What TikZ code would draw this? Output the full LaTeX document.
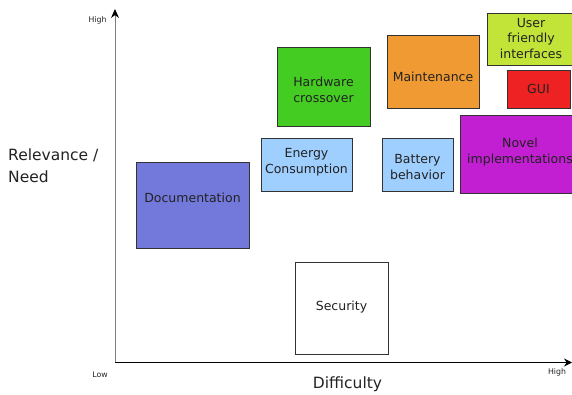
\documentclass[tikz,border=0pt]{standalone}
\usepackage{fontspec}
\setmainfont{DejaVu Sans}
\usetikzlibrary{arrows.meta}
\definecolor{cdoc}{HTML}{7379DB}
\definecolor{cblue}{HTML}{9FCFFF}
\definecolor{cgreen}{HTML}{44CC22}
\definecolor{corange}{HTML}{F09A33}
\definecolor{cyell}{HTML}{C2E337}
\definecolor{cred}{HTML}{EE2222}
\definecolor{cpurp}{HTML}{C11FD1}
\definecolor{cborder}{HTML}{333333}
\definecolor{ctext}{HTML}{222222}
\tikzset{
  box/.style={draw=cborder, line width=0.9pt, inner sep=0pt},
  boxtext/.style={align=center, inner sep=0pt, text=ctext, font=\fontsize{12.5}{15.5}\selectfont},
  axislbl/.style={font=\fontsize{15.5}{22}\selectfont, text=ctext},
  ticklbl/.style={font=\fontsize{7.8}{9}\selectfont, text=ctext},
}
\begin{document}
\begin{tikzpicture}[x=1pt,y=-1pt]
\clip (0,0) rectangle (572,395);
\fill[white] (0,0) rectangle (572,395);
% boxes
\node[box, fill=cdoc, minimum width=113pt, minimum height=86pt] (doc) at (192.5,205) {};
\node[box, fill=cblue, minimum width=91pt, minimum height=53pt] (energy) at (306.5,164.5) {};
\node[box, fill=cgreen, minimum width=93pt, minimum height=79pt] (hw) at (323.5,86.5) {};
\node[box, fill=corange, minimum width=92pt, minimum height=73pt] (maint) at (433,72) {};
\node[box, fill=cyell, minimum width=90pt, minimum height=52pt] (user) at (532,39) {};
\node[box, fill=cred, minimum width=63pt, minimum height=38pt] (gui) at (538.5,89) {};
\node[box, fill=cpurp, minimum width=120pt, minimum height=78pt] (novel) at (520,154) {};
\node[box, fill=cblue, minimum width=71pt, minimum height=53pt] (batt) at (417.5,164.5) {};
\node[box, fill=white, minimum width=93pt, minimum height=92pt] (sec) at (341.5,308.5) {};
% box texts
\node[boxtext] (docT) at (192.5,198) {Documentation};
\node[boxtext] (energyT) at (306.5,162) {Energy\\Consumption};
\node[boxtext] (hwT) at (323.5,90) {Hardware\\crossover};
\node[boxtext] (maintT) at (433,77) {Maintenance};
\node[boxtext] (userT) at (531,38.5) {User\\friendly\\interfaces};
\node[boxtext] (guiT) at (538.5,89) {GUI};
\node[boxtext] (novelT) at (520,152) {Novel\\implementations};
\node[boxtext] (battT) at (417.5,167) {Battery\\behavior};
\node[boxtext] (secT) at (341.5,307) {Security};
% axes
\coordinate (origin) at (115,362.5);
\coordinate (ytop) at (115,9);
\coordinate (xend) at (572,362.5);
\draw[line width=0.9pt, draw=gray, -{Stealth[length=9pt,width=8pt,color=black]}] (origin) -- (ytop);
\draw[line width=1.5pt, draw=black, -{Stealth[length=8pt,width=8pt]}] (origin) -- (xend);
% labels
\node[ticklbl] (yhigh) at (97.5,20) {High};
\node[ticklbl] (xlow) at (100,374.5) {Low};
\node[ticklbl] (xhigh) at (557,372) {High};
\node[axislbl] (xlbl) at (347.5,384) {Difficulty};
\node[axislbl, align=left, anchor=west, inner sep=0pt] (ylbl) at (8,166) {Relevance /\\Need};
\end{tikzpicture}
\end{document}
